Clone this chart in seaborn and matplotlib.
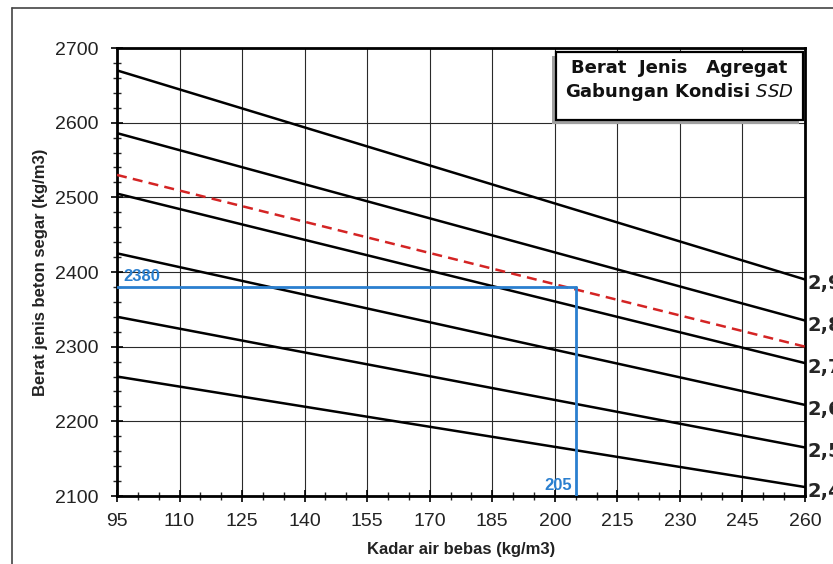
import matplotlib
matplotlib.use("Agg")
import matplotlib.pyplot as plt
from matplotlib.lines import Line2D
from matplotlib.patches import Rectangle
from matplotlib.ticker import MultipleLocator
import seaborn as sns
import pandas as pd

# ---- data ----
x_range = [95, 260]
sg_labels = ["2,9", "2,8", "2,7", "2,6", "2,5", "2,4"]
density_start = [2670, 2586, 2505, 2425, 2340, 2260]
density_end = [2390, 2335, 2278, 2222, 2165, 2112]
ssd_line = [2530, 2300]
water_value = 205
density_value = 2380
x_ticks = [95, 110, 125, 140, 155, 170, 185, 200, 215, 230, 245, 260]
y_ticks = [2100, 2200, 2300, 2400, 2500, 2600, 2700]

sns.set_style("ticks")
plt.rcParams['font.family'] = ['Liberation Sans', 'DejaVu Sans']

fig = plt.figure(figsize=(8.33, 5.64), dpi=100)
ax = fig.add_axes([117/833, 1-496/564, (805-117)/833, (496-48)/564])

ax.set_xlim(95, 260)
ax.set_ylim(2100, 2700)
ax.set_xticks(x_ticks)
ax.set_yticks(y_ticks)
ax.xaxis.set_minor_locator(MultipleLocator(5))
ax.yaxis.set_minor_locator(MultipleLocator(20))
ax.grid(True, which='major', color='#2a2a2a', linewidth=0.8)
ax.set_axisbelow(True)

for lab, s, e in zip(sg_labels, density_start, density_end):
    df = pd.DataFrame({"x": x_range, "y": [s, e]})
    sns.lineplot(data=df, x="x", y="y", ax=ax, color='black', linewidth=1.8, zorder=3)
    ax.text(260 + 0.6, e - 6, lab, ha='left', va='center', fontsize=14,
            fontweight='bold', family='DejaVu Sans', clip_on=False)

df_ssd = pd.DataFrame({"x": x_range, "y": ssd_line})
sns.lineplot(data=df_ssd, x="x", y="y", ax=ax, color='#D42424', linewidth=1.8,
             linestyle=(0, (4, 2.5)), zorder=3)

blue = '#2A7FCF'
ax.plot([95, water_value], [density_value, density_value], color=blue, linewidth=2, zorder=4)
ax.plot([water_value, water_value], [2100, density_value], color=blue, linewidth=2, zorder=4)
ax.text(96.5, density_value + 4, str(density_value), color=blue, fontsize=12,
        fontweight='bold', ha='left', va='bottom', zorder=5)
ax.text(water_value - 0.8, 2104, str(water_value), color=blue, fontsize=12,
        fontweight='bold', ha='right', va='bottom', zorder=5)

for sp in ax.spines.values():
    sp.set_visible(True)
    sp.set_linewidth(2)
    sp.set_color('black')

ax.tick_params(axis='both', which='major', direction='inout', length=8, width=1.2,
               labelsize=14, colors='black')
ax.tick_params(axis='both', which='minor', direction='inout', length=6, width=1.0)
ax.tick_params(axis='y', which='major', pad=9)
ax.tick_params(axis='x', which='major', pad=8)
for t in ax.get_xticklabels() + ax.get_yticklabels():
    t.set_color('#222222')

ax.set_xlabel("Kadar air bebas (kg/m3)", fontsize=12, fontweight='bold', labelpad=9,
              color='#222222')
ax.set_ylabel("Berat jenis beton segar (kg/m3)", fontsize=12, fontweight='bold',
              labelpad=5, color='#222222')

# title box with shadow
bx0, bx1 = 556/833, 803/833
by0, by1 = 1-120/564, 1-52/564
fig.add_artist(Rectangle((bx0 - 0.005, by0 - 0.007), bx1 - bx0, by1 - by0,
                         transform=fig.transFigure, facecolor='#a0a0a0',
                         edgecolor='none', zorder=9))
fig.add_artist(Rectangle((bx0, by0), bx1 - bx0, by1 - by0, transform=fig.transFigure,
                         facecolor='white', edgecolor='black', linewidth=1.6, zorder=10))
fig.text((bx0 + bx1) / 2, 1-68/564, "Berat  Jenis   Agregat", ha='center', va='center',
         fontsize=13, fontweight='bold', family='DejaVu Sans', color='#111111', zorder=11)
fig.text((bx0 + bx1) / 2, 1-92/564, "Gabungan Kondisi $\\mathbf{\\it{SSD}}$", ha='center',
         va='center', fontsize=13, fontweight='bold', family='DejaVu Sans',
         color='#111111', zorder=11)

# outer frame lines
fig.add_artist(Line2D([12/833, 12/833], [0, 1-8/564], transform=fig.transFigure,
                      color='#444444', linewidth=1.2))
fig.add_artist(Line2D([12/833, 1], [1-8/564, 1-8/564], transform=fig.transFigure,
                      color='#444444', linewidth=1.2))

fig.savefig("out.png", dpi=100)
